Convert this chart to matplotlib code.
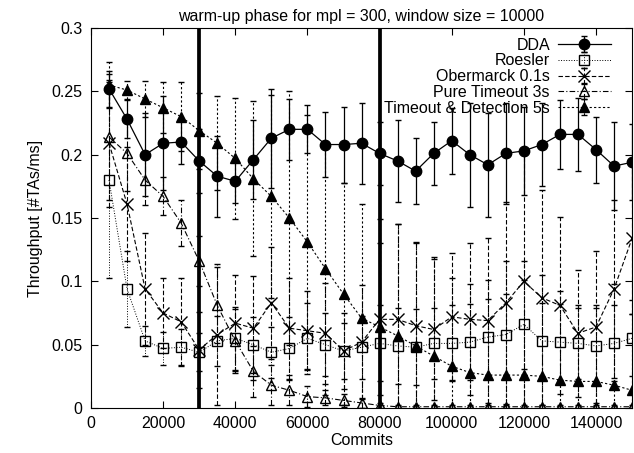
import matplotlib
matplotlib.use("Agg")
import matplotlib.pyplot as plt
from matplotlib.ticker import FuncFormatter

plt.rcParams["font.family"] = ["Liberation Sans", "DejaVu Sans"]

commits = [5000 * i for i in range(1, 31)]

dda = [0.252, 0.228, 0.200, 0.209, 0.210, 0.195, 0.183, 0.179, 0.196, 0.213,
       0.220, 0.220, 0.208, 0.208, 0.209, 0.201, 0.195, 0.187, 0.201, 0.211,
       0.200, 0.192, 0.201, 0.203, 0.208, 0.216, 0.216, 0.204, 0.191, 0.194]
dda_err = [0.014, 0.015, 0.033, 0.037, 0.017, 0.025, 0.032, 0.017, 0.031, 0.039,
           0.024, 0.019, 0.026, 0.030, 0.032, 0.025, 0.032, 0.026, 0.025, 0.026,
           0.041, 0.041, 0.040, 0.035, 0.033, 0.027, 0.029, 0.026, 0.035, 0.030]

roesler = [0.180, 0.094, 0.053, 0.047, 0.048, 0.044, 0.053, 0.055, 0.050, 0.044,
           0.047, 0.055, 0.050, 0.045, 0.048, 0.051, 0.049, 0.048, 0.051, 0.051,
           0.052, 0.056, 0.058, 0.066, 0.053, 0.052, 0.051, 0.049, 0.051, 0.055]
roesler_err = [0.077, 0.030, 0.012, 0.013, 0.014, 0.015, 0.020, 0.025, 0.022, 0.020,
               0.025, 0.028, 0.025, 0.022, 0.025, 0.030, 0.030, 0.030, 0.028, 0.030,
               0.030, 0.030, 0.032, 0.035, 0.030, 0.030, 0.028, 0.030, 0.030, 0.030]

obermarck = [0.209, 0.161, 0.094, 0.075, 0.068, 0.046, 0.058, 0.067, 0.063, 0.083,
             0.063, 0.061, 0.059, 0.045, 0.052, 0.070, 0.070, 0.065, 0.062, 0.072,
             0.070, 0.069, 0.083, 0.100, 0.087, 0.081, 0.059, 0.064, 0.094, 0.134]
obermarck_err = [0.050, 0.045, 0.044, 0.028, 0.035, 0.030, 0.056, 0.038, 0.041, 0.044,
                 0.040, 0.031, 0.040, 0.030, 0.045, 0.060, 0.075, 0.065, 0.056, 0.050,
                 0.060, 0.065, 0.080, 0.100, 0.085, 0.070, 0.050, 0.060, 0.070, 0.060]

pure_timeout = [0.214, 0.201, 0.180, 0.167, 0.146, 0.116, 0.081, 0.053, 0.029, 0.018,
                0.014, 0.009, 0.008, 0.006, 0.004, 0.002, 0.001, 0.001, 0.001, 0.001,
                0.001, 0.001, 0.001, 0.001, 0.001, 0.001, 0.001, 0.001, 0.001, 0.001]
pure_timeout_err = [0.050, 0.030, 0.020, 0.015, 0.018, 0.020, 0.030, 0.025, 0.020, 0.016,
                    0.012, 0.008, 0.006, 0.005, 0.004, 0.002, 0.001, 0.001, 0.001, 0.001,
                    0.001, 0.001, 0.001, 0.001, 0.001, 0.001, 0.001, 0.001, 0.001, 0.001]

timeout_det = [0.255, 0.251, 0.244, 0.237, 0.230, 0.219, 0.209, 0.197, 0.181, 0.167,
               0.150, 0.131, 0.110, 0.090, 0.071, 0.064, 0.057, 0.049, 0.041, 0.033,
               0.028, 0.026, 0.026, 0.026, 0.025, 0.022, 0.021, 0.021, 0.018, 0.014]
timeout_det_err = [0.018, 0.007, 0.014, 0.020, 0.027, 0.030, 0.037, 0.048, 0.061, 0.080,
                   0.100, 0.100, 0.100, 0.088, 0.090, 0.085, 0.088, 0.082, 0.078, 0.070,
                   0.070, 0.075, 0.090, 0.090, 0.080, 0.070, 0.060, 0.060, 0.080, 0.060]

phase_marks = [30000, 80000]

fig = plt.figure(figsize=(6.34, 4.53), dpi=100)
ax = fig.add_axes([0.1435, 0.0993, 0.8535, 0.8389])

# label, values, errors, marker, size, face, linestyle, linewidth
series = [
    ("DDA", dda, dda_err, "o", 7.5, "black", "-", 0.9),
    ("Roesler", roesler, roesler_err, "s", 7, "none", ":", 0.7),
    ("Obermarck 0.1s", obermarck, obermarck_err, "x", 8, "none", (0, (4, 2)), 0.8),
    ("Pure Timeout 3s", pure_timeout, pure_timeout_err, "^", 7.5, "none", (0, (5, 2, 1, 2)), 0.8),
    ("Timeout & Detection 5s", timeout_det, timeout_det_err, "^", 7.5, "black", (0, (2, 2)), 0.8),
]

for label, vals, errs, mk, ms, face, ls, lw in series:
    eb = ax.errorbar(commits, vals, yerr=errs, marker=mk, markersize=ms,
                     markerfacecolor=face, markeredgecolor="black", markeredgewidth=1.0,
                     color="black", linestyle=ls, linewidth=lw, elinewidth=lw,
                     capsize=2, capthick=lw, label=label)
    for bars in eb[2]:
        bars.set_linestyle(ls)

# thick markers for the phase boundaries
for xv in phase_marks:
    ax.axvline(xv, color="black", linewidth=2.7)

ax.set_xlim(0, 150000)
ax.set_ylim(0, 0.3)
ax.set_xticks(range(0, 150000, 20000))
ax.set_yticks([0, 0.05, 0.1, 0.15, 0.2, 0.25, 0.3])
ax.xaxis.set_major_formatter(FuncFormatter(lambda v, p: "%d" % v))
ax.yaxis.set_major_formatter(FuncFormatter(lambda v, p: "%g" % round(v, 3)))
ax.tick_params(direction="in", length=5, top=True, right=True, labelsize=11.5, pad=6)

ax.set_xlabel("Commits", fontsize=11.5, labelpad=1)
ax.set_ylabel("Throughput [#TAs/ms]", fontsize=11.5, labelpad=6)
ax.set_title("warm-up phase for mpl = 300, window size = 10000", fontsize=11.5, pad=5)

ax.legend(loc="upper right", bbox_to_anchor=(0.978, 1.0), markerfirst=False,
          frameon=False, fontsize=11.5, handlelength=3.3, handletextpad=0.5,
          labelspacing=0.05, borderaxespad=0.2)

fig.savefig("out.png", dpi=100)
